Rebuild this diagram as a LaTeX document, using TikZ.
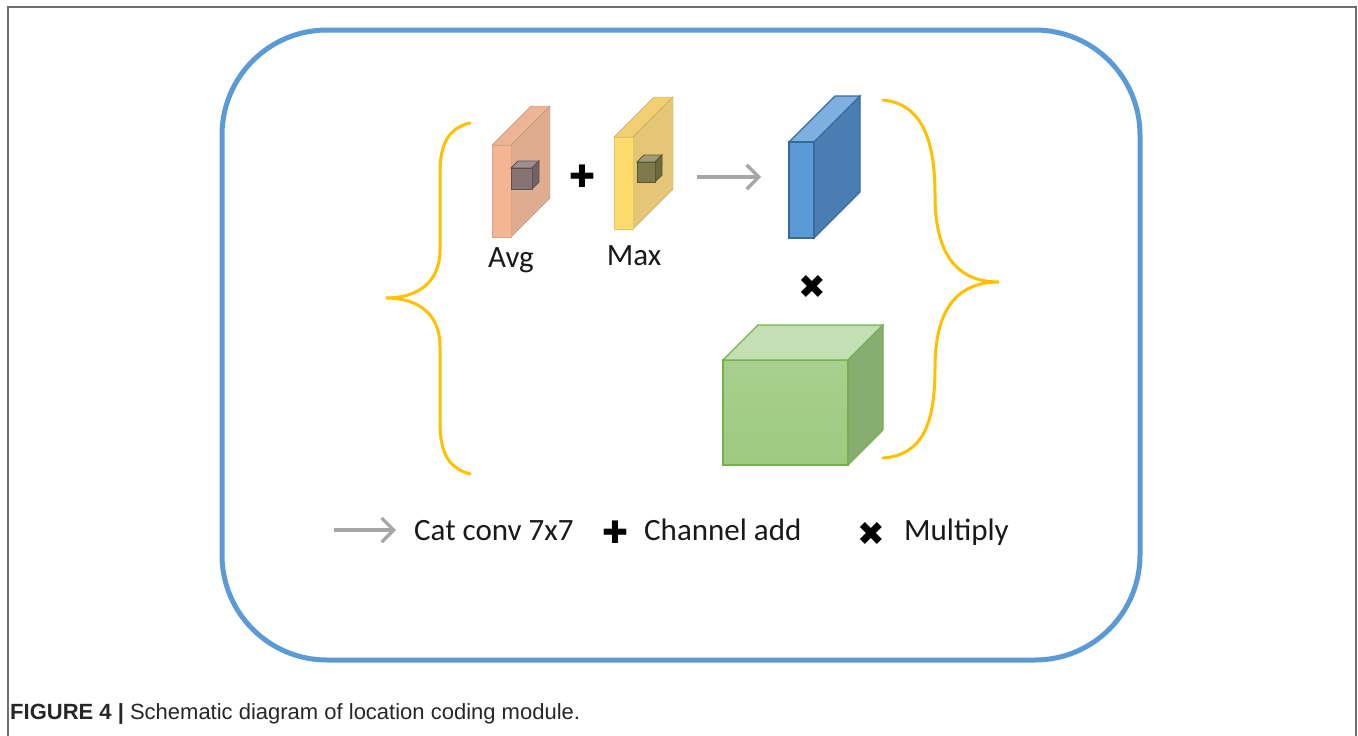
\documentclass[tikz,border=0pt]{standalone}
\usepackage{fontspec}
\setmainfont{Carlito}
\newfontfamily\symfont{DejaVu Sans}
\newfontfamily\capfont{Liberation Sans}
\usetikzlibrary{arrows.meta}
\definecolor{framegray}{HTML}{6E6E6E}
\definecolor{panelblue}{HTML}{5B9BD5}
\definecolor{braceorange}{HTML}{FFC000}
\definecolor{avgfront}{HTML}{F4B594}
\definecolor{avgside}{HTML}{DEAC8E}
\definecolor{avgtop}{HTML}{EDB596}
\definecolor{maxfront}{HTML}{FFDB6E}
\definecolor{maxside}{HTML}{E4C676}
\definecolor{maxtop}{HTML}{F2CF72}
\definecolor{kernA}{HTML}{867474}
\definecolor{kernAline}{HTML}{5E4E4E}
\definecolor{kernB}{HTML}{7F7A4B}
\definecolor{kernBline}{HTML}{5A5630}
\definecolor{convfront}{HTML}{5B9BD5}
\definecolor{convtop}{HTML}{7DB0E0}
\definecolor{convside}{HTML}{4A7EB2}
\definecolor{convline}{HTML}{3A6A98}
\definecolor{cubefront}{HTML}{A8CF8E}
\definecolor{cubefrontlow}{HTML}{9DCA80}
\definecolor{cubetop}{HTML}{C4DFB3}
\definecolor{cubeside}{HTML}{88AD71}
\definecolor{cubeline}{HTML}{74B04C}
\definecolor{arrowgray}{HTML}{A6A6A6}
\tikzset{
  lbl/.style={font=\fontsize{31}{36}\selectfont, inner sep=0pt, text=black!90},
  plussym/.style={font=\symfont\fontsize{31}{34}\selectfont, inner sep=0pt},
  mulsym/.style={font=\symfont\fontsize{33}{36}\selectfont, inner sep=0pt},
  brace/.style={draw=braceorange, line width=3pt, line cap=round},
  catarrow/.style={draw=arrowgray, line width=3.2pt,
    -{Straight Barb[length=12pt,width=24pt,line width=3.2pt]}},
}
\begin{document}
\begin{tikzpicture}[x=1pt,y=-1pt]
\useasboundingbox (0,0) rectangle (1358,736);
\fill[white] (0,0) rectangle (1358,736);

% figure frame (open at the bottom)
\draw[framegray, line width=2pt] (7.5,736) -- (7.5,6.5) -- (1355.5,6.5) -- (1355.5,736);

% rounded panel
\node[draw=panelblue, line width=5pt, rounded corners=105pt,
      minimum width=918pt, minimum height=630pt, inner sep=0pt] (panel) at (681,345) {};

% left brace
\draw[brace] (470,123) .. controls (448,128) and (440,145) .. (440,172)
  -- (440,250) .. controls (440,282) and (418,298) .. (386,298)
  .. controls (418,298) and (440,314) .. (440,346)
  -- (440,422) .. controls (440,452) and (448,468) .. (470,474);

% right brace
\draw[brace] (883,100) .. controls (922,104) and (935,140) .. (935,195)
  .. controls (935,252) and (955,282) .. (999,282)
  .. controls (955,282) and (935,312) .. (935,368)
  .. controls (935,425) and (922,455) .. (883,458);

% Avg slab
\filldraw[fill=avgside, draw=avgside!85!black, line width=0.4pt]
  (511,145) -- (550,106) -- (550,198) -- (511,237) -- cycle;
\filldraw[fill=avgtop, draw=avgside!85!black, line width=0.4pt]
  (492,145) -- (531,106) -- (550,106) -- (511,145) -- cycle;
\filldraw[fill=avgfront, draw=avgfront!90!black, line width=0.4pt]
  (492,145) rectangle (511,237);
% kernel inside Avg
\filldraw[fill=kernA!80!white, draw=kernAline, line width=0.8pt]
  (511,168) -- (518,161) -- (539,161) -- (532,168) -- cycle;
\filldraw[fill=kernA!85!black, draw=kernAline, line width=0.8pt]
  (532,168) -- (539,161) -- (539,182) -- (532,189) -- cycle;
\filldraw[fill=kernA, draw=kernAline, line width=0.8pt]
  (511,168) rectangle (532,189);
\node[lbl, anchor=base] (avg) at (511,267) {Avg};

% plus between the two pools
\node[plussym] (add) at (582,176) {✚};

% Max slab
\filldraw[fill=maxside, draw=maxside!85!black, line width=0.4pt]
  (633,137) -- (673,97) -- (673,189) -- (633,229) -- cycle;
\filldraw[fill=maxtop, draw=maxside!85!black, line width=0.4pt]
  (614,137) -- (654,97) -- (673,97) -- (633,137) -- cycle;
\filldraw[fill=maxfront, draw=maxfront!90!black, line width=0.4pt]
  (614,137) rectangle (633,229);
% kernel inside Max
\filldraw[fill=kernB!75!white, draw=kernBline, line width=0.8pt]
  (637,162) -- (644,155) -- (662,155) -- (655,162) -- cycle;
\filldraw[fill=kernB!85!black, draw=kernBline, line width=0.8pt]
  (655,162) -- (662,155) -- (662,175) -- (655,182) -- cycle;
\filldraw[fill=kernB, draw=kernBline, line width=0.8pt]
  (637,162) rectangle (655,182);
\node[lbl, anchor=base] (max) at (634,265) {Max};

% concat + conv arrow
\coordinate (convin) at (697,177);
\coordinate (convout) at (761,177);
\draw[catarrow] (convin) -- (convout);

% conv output slab
\filldraw[fill=convside, draw=convline, line width=1.2pt]
  (814,142) -- (860,96) -- (860,192) -- (814,238) -- cycle;
\filldraw[fill=convtop, draw=convline, line width=1.2pt]
  (789,142) -- (835,96) -- (860,96) -- (814,142) -- cycle;
\filldraw[fill=convfront, draw=convline, line width=1.2pt]
  (789,142) rectangle (814,238);

% multiply
\node[mulsym] (mul) at (812,287) {✖};

% feature cube
\shade[top color=cubefront, bottom color=cubefrontlow] (723,360) rectangle (848,465);
\draw[cubeline, line width=1.2pt] (723,360) rectangle (848,465);
\filldraw[fill=cubetop, draw=cubeline, line width=1.2pt]
  (723,360) -- (758,325) -- (883,325) -- (848,360) -- cycle;
\filldraw[fill=cubeside, draw=cubeline, line width=1.2pt]
  (848,360) -- (883,325) -- (883,430) -- (848,465) -- cycle;

% legend
\coordinate (keyin) at (334,530);
\coordinate (keyout) at (396,530);
\draw[catarrow] (keyin) -- (keyout);
\node[lbl, anchor=base west] (keyconv) at (414,540) {Cat conv 7x7};
\node[plussym] (keyadd) at (615,532) {✚};
\node[lbl, anchor=base west] (keyaddtxt) at (644,540) {Channel add};
\node[mulsym] (keymul) at (871,534) {✖};
\node[lbl, anchor=base west] (keymultxt) at (904,540) {Multiply};

% caption
\node[anchor=base west, inner sep=0pt, font=\capfont\fontsize{22}{26}\selectfont, text=black!85]
  (caption) at (10,719) {\textbf{FIGURE 4 |} Schematic diagram of location coding module.};
\end{tikzpicture}
\end{document}
